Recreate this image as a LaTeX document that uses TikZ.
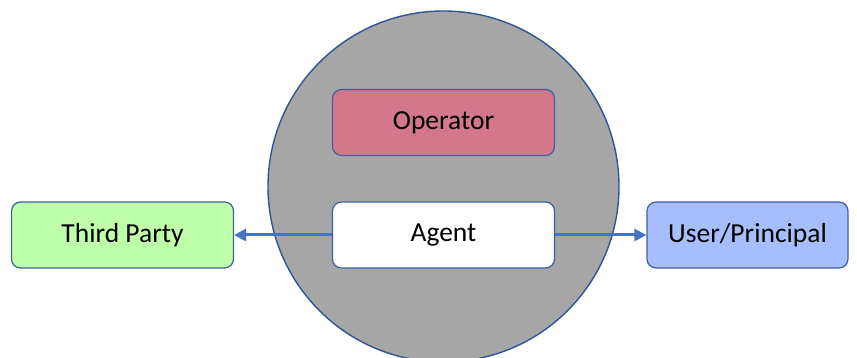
\documentclass[tikz,border=0pt]{standalone}
\usepackage{fontspec}
\setmainfont{Carlito}
\usetikzlibrary{arrows.meta}
\definecolor{circfill}{HTML}{A6A6A6}
\definecolor{edgeblue}{HTML}{2F5597}
\definecolor{boxedge}{HTML}{3F5F9F}
\definecolor{arrowblue}{HTML}{4472C4}
\definecolor{opfill}{HTML}{D3778D}
\definecolor{tpfill}{HTML}{C0FFA9}
\definecolor{upfill}{HTML}{A6BEFC}
\tikzset{
  boxnode/.style={draw=boxedge, line width=1.2pt, rounded corners=9pt, minimum width=222pt, minimum height=66pt, inner sep=0pt, font=\fontsize{27.5}{33}\selectfont, text=black},
  flow/.style={draw=arrowblue, line width=3pt, -{Triangle[length=12pt,width=12pt]}}
}
\begin{document}
\begin{tikzpicture}[x=1pt,y=-1pt]
\useasboundingbox (0,0) rectangle (857,358);
\node[draw=edgeblue, line width=1.4pt, fill=circfill, circle, minimum size=351pt, inner sep=0pt] (world) at (443.5,186.5) {};
\node[boxnode, fill=opfill] (operator) at (443.5,122.5) {Operator};
\node[boxnode, fill=white] (agent) at (443.5,235) {Agent};
\node[boxnode, fill=tpfill] (third) at (122.5,235) {Third Party};
\node[boxnode, fill=upfill, minimum width=201pt] (user) at (747.5,235) {User/Principal};
\draw[flow] (agent.west) -- (third.east);
\draw[flow] (agent.east) -- (user.west);
\end{tikzpicture}
\end{document}
